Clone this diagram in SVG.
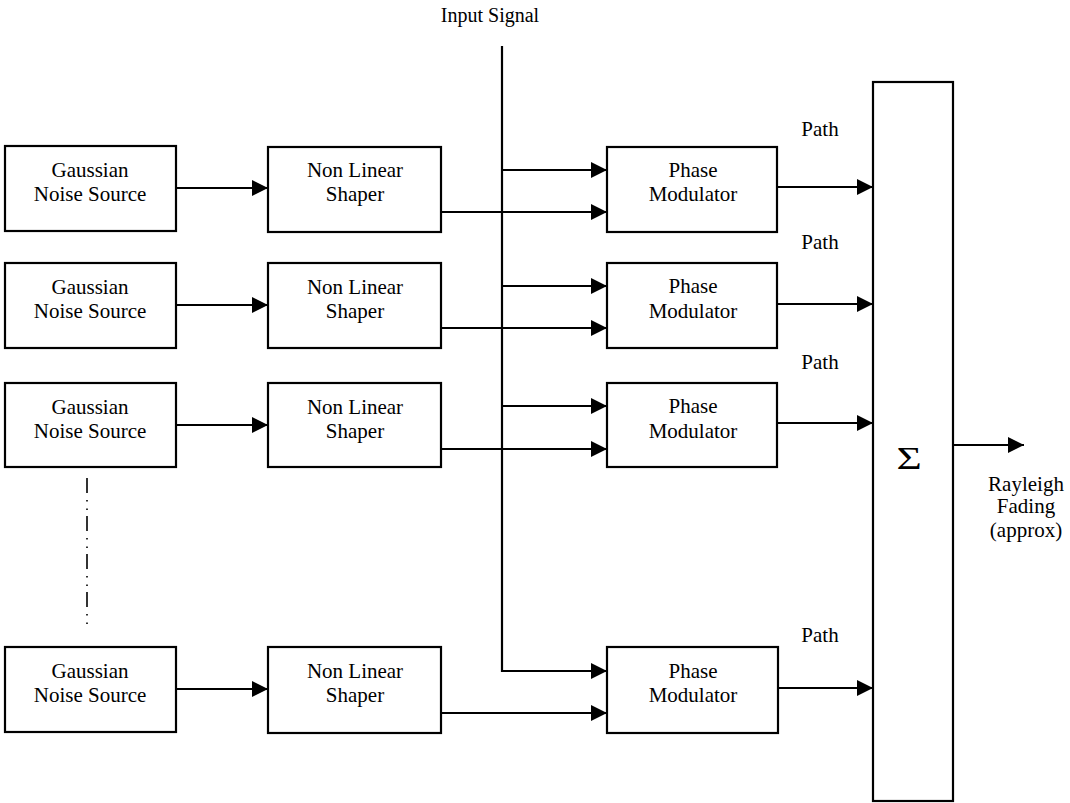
<svg xmlns="http://www.w3.org/2000/svg" width="1070" height="803" viewBox="0 0 1070 803">
<style>
  .box { fill: #fff; stroke: #000; stroke-width: 2.2; }
  .t { font-family: "Liberation Serif", "Times New Roman", serif; font-size: 21px; fill: #000; text-anchor: middle; }
  .c { fill: none; stroke: #000; stroke-width: 2.2; }
  .a { marker-end: url(#arr); }
</style>
<defs>
  <marker id="arr" markerUnits="userSpaceOnUse" markerWidth="16" markerHeight="16" refX="16" refY="8" orient="auto">
    <path d="M0,0 L16,8 L0,16 z" fill="#000"/>
  </marker>
</defs>
<rect width="1070" height="803" fill="#fff"/>

<g id="connectors">
  <path class="c a" d="M502,46 V671 H607"/>
  <path class="c a" d="M502,170 H607"/>
  <path class="c a" d="M502,286 H607"/>
  <path class="c a" d="M502,406 H607"/>
  <path class="c a" d="M176,188 H268"/>
  <path class="c a" d="M176,305 H268"/>
  <path class="c a" d="M176,425 H268"/>
  <path class="c a" d="M176,689 H268"/>
  <path class="c a" d="M441,212 H607"/>
  <path class="c a" d="M441,328 H607"/>
  <path class="c a" d="M441,449 H607"/>
  <path class="c a" d="M441,713 H607"/>
  <path class="c a" d="M777,187 H873"/>
  <path class="c a" d="M777,304 H873"/>
  <path class="c a" d="M777,423 H873"/>
  <path class="c a" d="M777,688 H873"/>
  <path class="c a" d="M953,445 H1024"/>
  <path d="M87,478 V624" fill="none" stroke="#000" stroke-width="1.6" stroke-dasharray="15 7 1.5 7 1.5 6"/>
</g>

<text class="t" x="490" y="22" style="font-size:20px">Input Signal</text>

<g id="gauss1"><rect class="box" x="5" y="146" width="171" height="85"/><text class="t" x="90" y="177">Gaussian</text><text class="t" x="90" y="201">Noise Source</text></g>
<g id="gauss2"><rect class="box" x="5" y="263" width="171" height="85"/><text class="t" x="90" y="294">Gaussian</text><text class="t" x="90" y="318">Noise Source</text></g>
<g id="gauss3"><rect class="box" x="5" y="383" width="171" height="84"/><text class="t" x="90" y="414">Gaussian</text><text class="t" x="90" y="438">Noise Source</text></g>
<g id="gauss4"><rect class="box" x="5" y="647" width="171" height="85"/><text class="t" x="90" y="678">Gaussian</text><text class="t" x="90" y="702">Noise Source</text></g>

<g id="shaper1"><rect class="box" x="268" y="147" width="173" height="85"/><text class="t" x="355" y="177">Non Linear</text><text class="t" x="355" y="201">Shaper</text></g>
<g id="shaper2"><rect class="box" x="268" y="263" width="173" height="85"/><text class="t" x="355" y="294">Non Linear</text><text class="t" x="355" y="318">Shaper</text></g>
<g id="shaper3"><rect class="box" x="268" y="383" width="173" height="84"/><text class="t" x="355" y="414">Non Linear</text><text class="t" x="355" y="438">Shaper</text></g>
<g id="shaper4"><rect class="box" x="268" y="647" width="173" height="86"/><text class="t" x="355" y="678">Non Linear</text><text class="t" x="355" y="702">Shaper</text></g>

<g id="phase1"><rect class="box" x="607" y="147" width="170" height="85"/><text class="t" x="693" y="177">Phase</text><text class="t" x="693" y="201">Modulator</text></g>
<g id="phase2"><rect class="box" x="607" y="263" width="170" height="85"/><text class="t" x="693" y="293">Phase</text><text class="t" x="693" y="318">Modulator</text></g>
<g id="phase3"><rect class="box" x="607" y="383" width="170" height="84"/><text class="t" x="693" y="413">Phase</text><text class="t" x="693" y="438">Modulator</text></g>
<g id="phase4"><rect class="box" x="607" y="647" width="171" height="86"/><text class="t" x="693" y="678">Phase</text><text class="t" x="693" y="702">Modulator</text></g>

<g id="labels">
  <text class="t" x="820" y="136">Path</text>
  <text class="t" x="820" y="249">Path</text>
  <text class="t" x="820" y="369">Path</text>
  <text class="t" x="820" y="642">Path</text>
</g>

<g id="sum"><rect class="box" x="873" y="82" width="80" height="719"/><text class="t" transform="translate(909,469) scale(1.4,1)" style="font-size:31px">Σ</text></g>

<g id="output"><text class="t" x="1026" y="491">Rayleigh</text><text class="t" x="1026" y="513">Fading</text><text class="t" x="1026" y="537">(approx)</text></g>
</svg>
